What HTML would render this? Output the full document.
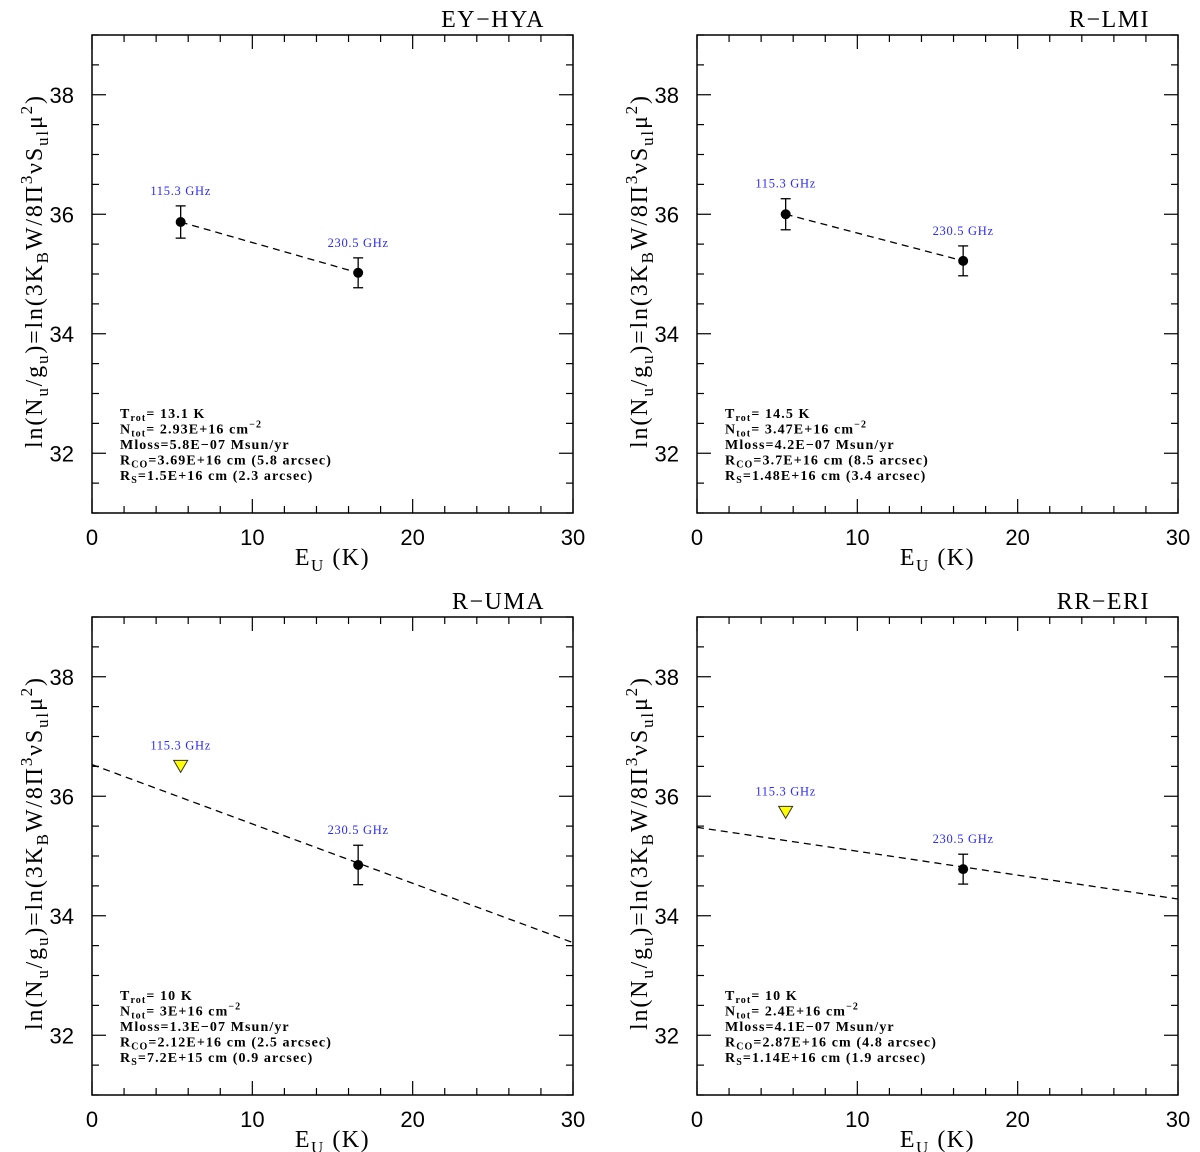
<!DOCTYPE html>
<html><head><meta charset="utf-8">
<style>
body{margin:0;background:#fff;}
svg{display:block;}
.tick{font-family:"Liberation Sans",sans-serif;font-size:22px;fill:#000;}
.ax{font-family:"Liberation Serif",serif;font-size:24px;fill:#000;}
.ann{font-family:"Liberation Serif",serif;font-size:14px;fill:#000;font-weight:bold;letter-spacing:1.1px;}
.freq{font-family:"Liberation Serif",serif;font-size:12.5px;fill:#2a2aff;letter-spacing:0.7px;}
</style></head>
<body>
<svg id="fig" width="1200" height="1152" viewBox="0 0 1200 1152"></svg>
<script>
const panelNames = ["EY\u2212HYA","R\u2212LMI","R\u2212UMA","RR\u2212ERI"];
const pointX = [5.53, 16.6];
const pointY = [[35.87,35.02],[36.0,35.22],[36.5,34.85],[35.73,34.78]];
const pointErr = [[0.27,0.25],[0.26,0.25],[0,0.33],[0,0.25]];
const isUpperLimit = [[false,false],[false,false],[true,false],[true,false]];
const freqLabels = ["115.3 GHz","230.5 GHz"];
const fitX = [[5.53,16.6],[5.53,16.6],[0,30],[0,30]];
const fitY = [[35.87,35.02],[36.0,35.22],[36.53,33.55],[35.48,34.28]];
const xTicks = [0,10,20,30];
const yTicks = [32,34,36,38];
const annTrot = ["13.1 K","14.5 K","10 K","10 K"];
const annNtot = ["2.93E+16","3.47E+16","3E+16","2.4E+16"];
const annMloss = ["5.8E\u221207","4.2E\u221207","1.3E\u221207","4.1E\u221207"];
const annRco = ["3.69E+16 cm (5.8 arcsec)","3.7E+16 cm (8.5 arcsec)","2.12E+16 cm (2.5 arcsec)","2.87E+16 cm (4.8 arcsec)"];
const annRs = ["1.5E+16 cm (2.3 arcsec)","1.48E+16 cm (3.4 arcsec)","7.2E+15 cm (0.9 arcsec)","1.14E+16 cm (1.9 arcsec)"];

const NS="http://www.w3.org/2000/svg";
const svg=document.getElementById('fig');
function mk(tag,attrs,parent){const e=document.createElementNS(NS,tag);for(const k in attrs)e.setAttribute(k,attrs[k]);parent.appendChild(e);return e;}
const origins=[[92,35],[697,35],[92,617],[697,617]];
const W=481,H=478,X0=0,X1=30,Y0=31,Y1=39;

panelNames.forEach((name,p)=>{
  const [ox,oy]=origins[p];
  const sx=v=>ox+(v-X0)/(X1-X0)*W;
  const sy=v=>oy+H-(v-Y0)/(Y1-Y0)*H;
  const g=mk('g',{},svg);
  
  
  const frame=mk('rect',{x:ox,y:oy,width:W,height:H,fill:'none',stroke:'#000','stroke-width':1.5},g);
  
  
  for(let v=0;v<=30;v+=2){const L=(v%10===0)?14:7;const x=sx(v);
    mk('line',{x1:x,y1:oy+H,x2:x,y2:oy+H-L,stroke:'#000','stroke-width':1.2},g);
    mk('line',{x1:x,y1:oy,x2:x,y2:oy+L,stroke:'#000','stroke-width':1.2},g);}
  for(let v=31;v<=39.001;v+=0.5){const L=(Math.abs(v%2)<0.01)?14:7;const y=sy(v);
    mk('line',{x1:ox,y1:y,x2:ox+L,y2:y,stroke:'#000','stroke-width':1.2},g);
    mk('line',{x1:ox+W,y1:y,x2:ox+W-L,y2:y,stroke:'#000','stroke-width':1.2},g);}
  xTicks.forEach(v=>{const t=mk('text',{x:sx(v),y:oy+H+32,'text-anchor':'middle',class:'tick'},g);t.textContent=v;
    });
  yTicks.forEach(v=>{const t=mk('text',{x:ox-18,y:sy(v)+8,'text-anchor':'end',class:'tick'},g);t.textContent=v;
    });
  const xl=mk('text',{x:ox+W/2,y:oy+H+52,'text-anchor':'middle',class:'ax','letter-spacing':'1.5'},g);
  xl.innerHTML='E<tspan font-size="17" dy="6">U</tspan><tspan dy="-6">  (K)</tspan>';
  
  const yl=mk('text',{x:0,y:0,'text-anchor':'middle',class:'ax',textLength:352,lengthAdjust:'spacing',transform:`translate(${ox-50},${oy+H/2-2}) rotate(-90)`},g);
  yl.innerHTML='ln(N<tspan font-size="17" dy="6">u</tspan><tspan dy="-6">/g</tspan><tspan font-size="17" dy="6">u</tspan><tspan dy="-6">)=ln(3K</tspan><tspan font-size="17" dy="6">B</tspan><tspan dy="-6">W/8\u03A0</tspan><tspan font-size="17" dy="-10">3</tspan><tspan dy="10">\u03BDS</tspan><tspan font-size="17" dy="6">ul</tspan><tspan dy="-6">\u03BC</tspan><tspan font-size="17" dy="-10">2</tspan><tspan dy="10">)</tspan>';
  
  const tt=mk('text',{x:ox+W-28,y:oy-8,'text-anchor':'end',class:'ax','letter-spacing':'1.5'},g);tt.textContent=name;
  
  const fl=mk('line',{x1:sx(fitX[p][0]),y1:sy(fitY[p][0]),x2:sx(fitX[p][1]),y2:sy(fitY[p][1]),stroke:'#000','stroke-width':1.3,'stroke-dasharray':'7,5'},g);
  
  pointX.forEach((xv,i)=>{
    const x=sx(xv),y=sy(pointY[p][i]);let top;
    if(isUpperLimit[p][i]){
      const tri=mk('polygon',{points:`${x-7},${y-6} ${x+7},${y-6} ${x},${y+6}`,fill:'#ffff00',stroke:'#333','stroke-width':1},g);
      
      top=y-6;
    } else {
      const e=pointErr[p][i];const yt=sy(pointY[p][i]+e),yb=sy(pointY[p][i]-e);
      mk('line',{x1:x,y1:yt,x2:x,y2:yb,stroke:'#000','stroke-width':1.3},g);
      mk('line',{x1:x-5,y1:yt,x2:x+5,y2:yt,stroke:'#000','stroke-width':1.3},g);
      mk('line',{x1:x-5,y1:yb,x2:x+5,y2:yb,stroke:'#000','stroke-width':1.3},g);
      const c=mk('circle',{cx:x,cy:y,r:5,fill:'#000'},g);
      
      top=yt;
    }
    const fl2=mk('text',{x:x,y:top-11,'text-anchor':'middle',class:'freq'},g);fl2.textContent=freqLabels[i];
    
  });
  const ax=ox+28,ay=oy+383,dl=15.5;
  const a=mk('g',{},g);
  let t=mk('text',{x:ax,y:ay,class:'ann'},a);t.innerHTML=`T<tspan font-size="10" dy="3">rot</tspan><tspan dy="-3">= ${annTrot[p]}</tspan>`;
  t=mk('text',{x:ax,y:ay+dl,class:'ann'},a);t.innerHTML=`N<tspan font-size="10" dy="3">tot</tspan><tspan dy="-3">= ${annNtot[p]} cm</tspan><tspan font-size="10" dy="-6">\u22122</tspan>`;
  t=mk('text',{x:ax,y:ay+2*dl,class:'ann'},a);t.textContent=`Mloss=${annMloss[p]} Msun/yr`;
  t=mk('text',{x:ax,y:ay+3*dl,class:'ann'},a);t.innerHTML=`R<tspan font-size="10" dy="3">CO</tspan><tspan dy="-3">=${annRco[p]}</tspan>`;
  t=mk('text',{x:ax,y:ay+4*dl,class:'ann'},a);t.innerHTML=`R<tspan font-size="10" dy="3">S</tspan><tspan dy="-3">=${annRs[p]}</tspan>`;
});
</script>
</body></html>
